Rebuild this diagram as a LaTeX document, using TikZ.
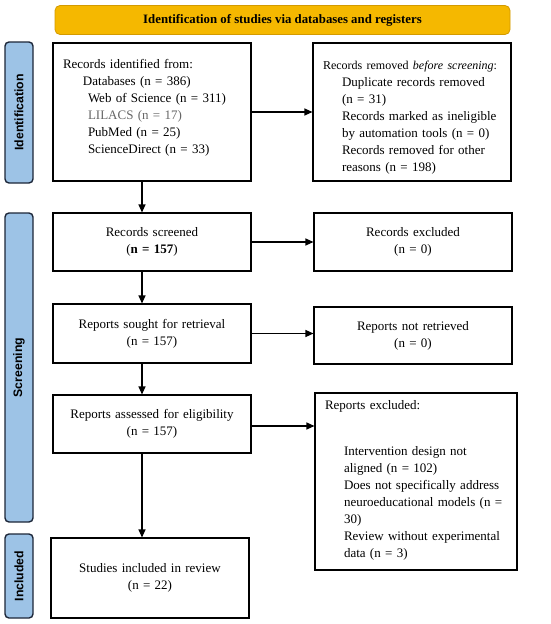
\documentclass[tikz,border=0pt]{standalone}
\usepackage{fontspec}
\setmainfont{Liberation Serif}
\setsansfont{Liberation Sans}
\usetikzlibrary{arrows.meta,calc}
\definecolor{banner}{HTML}{F5B800}
\definecolor{bannerline}{HTML}{D39A00}
\definecolor{sideblue}{HTML}{9DC3E6}
\definecolor{sideline}{HTML}{1C2638}
\tikzset{
  box/.style={draw=black, line width=1.1pt, inner xsep=10pt, inner ysep=0pt, font=\fontsize{13}{17}\selectfont},
  side/.style={draw=sideline, fill=sideblue, line width=1.4pt, rounded corners=4pt, minimum width=28pt},
  sidetext/.style={font=\sffamily\bfseries\fontsize{12.3}{14}\selectfont, rotate=90},
  arr/.style={line width=1.2pt, -{Triangle[length=8pt,width=7pt]}},
}
\begin{document}
\begin{tikzpicture}[x=1pt,y=-1pt]
\useasboundingbox (0,0) rectangle (550,624);
% banner
\node[draw=bannerline, fill=banner, line width=0.8pt, rounded corners=5pt, minimum width=455pt, minimum height=29pt,
  font=\bfseries\fontsize{12.8}{14}\selectfont] (ban) at (282.5,20) {Identification of studies via databases and registers};
% side labels
\node[side, minimum height=141pt] (s1) at (19,112.5) {};
\node[sidetext] (t1) at (s1.center) {Identification};
\node[side, minimum height=309pt] (s2) at (19,367.5) {};
\node[sidetext] (t2) at (s2.center) {Screening};
\node[side, minimum height=84pt] (s3) at (19,576) {};
\node[sidetext] (t3) at (s3.center) {Included};
% left column
\node[box, text width=178pt, minimum height=138pt, align=left] (b1) at (152,112) {%
Records identified from:\\
\hspace*{20pt}Databases (n = 386)\\
\hspace*{25pt}Web of Science (n = 311)\\
\hspace*{25pt}\textcolor{black!60}{LILACS (n = 17)}\\
\hspace*{25pt}PubMed (n = 25)\\
\hspace*{25pt}ScienceDirect (n = 33)\\[-5pt]\mbox{}};
\node[box, text width=178pt, minimum height=58pt, align=center] (b2) at (152,242) {Records screened\\(\textbf{n = 157})};
\node[box, text width=178pt, minimum height=59pt, align=center] (b3) at (152,333.5) {Reports sought for retrieval\\(n = 157)};
\node[box, text width=178pt, minimum height=58pt, align=center] (b4) at (152,424) {Reports assessed for eligibility\\(n = 157)};
\node[box, text width=178pt, minimum height=80pt, align=center] (b5) at (150,578) {Studies included in review\\(n = 22)};
% right column
\node[box, text width=178pt, minimum height=138pt, align=left] (r1) at (412,112) {%
\rule{0pt}{19pt}\mbox{\fontsize{12}{17}\selectfont Records removed \textit{before screening}:}\\
\hspace*{19pt}Duplicate records removed\\
\hspace*{19pt}(n = 31)\\
\hspace*{19pt}Records marked as ineligible\\
\hspace*{19pt}by automation tools (n = 0)\\
\hspace*{19pt}Records removed for other\\
\hspace*{19pt}reasons (n = 198)};
\node[box, text width=178pt, minimum height=58pt, align=center] (r2) at (413,242) {Records excluded\\(n = 0)};
\node[box, text width=178pt, minimum height=57pt, align=center] (r3) at (413,335.5) {Reports not retrieved\\(n = 0)};
\node[box, text width=182pt, minimum height=175pt, align=left] (r4) at (416,481.5) {%
\rule{0pt}{16pt}Reports excluded:\\[12pt]
\mbox{}\\
\hspace*{19pt}Intervention design not\\
\hspace*{19pt}aligned (n = 102)\\
\hspace*{19pt}Does not specifically address\\
\hspace*{19pt}neuroeducational models (n =\\
\hspace*{19pt}30)\\
\hspace*{19pt}Review without experimental\\
\hspace*{19pt}data (n = 3)\\[-4pt]\mbox{}};
% connectors
\coordinate (vx) at (142,0);
\draw[arr] (b1.south -| vx) -- (b2.north -| vx);
\draw[arr] (b2.south -| vx) -- (b3.north -| vx);
\draw[arr] (b3.south -| vx) -- (b4.north -| vx);
\draw[arr] (b4.south -| vx) -- (b5.north -| vx);
\draw[arr] (b1.east) -- (b1.east -| r1.west);
\draw[arr] (b2.east) -- (b2.east -| r2.west);
\draw[arr] (b3.east) -- (b3.east -| r3.west);
\draw[arr] ($(b4.east)+(0,2)$) -- ($(b4.east -| r4.west)+(0,2)$);
\end{tikzpicture}
\end{document}
